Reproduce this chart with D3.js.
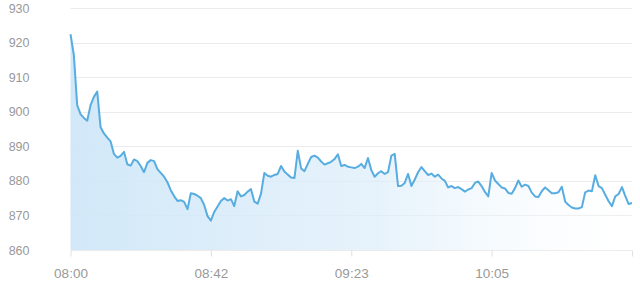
<!DOCTYPE html>
<meta charset="utf-8">
<style>

body { margin: 0; background: #fff; }

.grid line {
  stroke: #ebebeb;
  stroke-width: 1px;
}

.axis text {
  fill: #999;
  font-family: "Liberation Sans", Arial, sans-serif;
}

.axis path { display: none; }

.axis--x line { stroke: #e0e0e0; }

.line {
  fill: none;
  stroke: #58ade0;
  stroke-width: 2px;
  stroke-linejoin: round;
}

</style>
<svg width="640" height="294"></svg>
<script src="https://cdn.jsdelivr.net/npm/d3@7/dist/d3.min.js"></script>
<script>

// one value per minute, index 0 = 08:00
var values = [
  922.4, 916.4, 901.9, 899.3, 898.2, 897.4, 901.9, 904.3, 905.8, 895.5,
  893.7, 892.5, 891.4, 887.8, 886.7, 887.2, 888.4, 884.8, 884.4, 886.2,
  885.7, 884.3, 882.5, 885.2, 886.0, 885.7, 883.4, 882.3, 881.2, 879.6,
  877.3, 875.6, 874.2, 874.4, 873.9, 871.8, 876.4, 876.2, 875.7, 875.0,
  873.0, 869.8, 868.5, 871.0, 872.6, 874.2, 875.0, 874.3, 874.7, 872.7,
  877.0, 875.5, 875.9, 876.9, 877.6, 874.0, 873.4, 876.3, 882.3, 881.5,
  881.2, 881.7, 882.0, 884.3, 882.7, 881.8, 881.0, 880.8, 888.7, 883.6,
  882.8, 884.9, 886.9, 887.3, 886.7, 885.6, 884.7, 885.1, 885.5, 886.3,
  887.7, 884.3, 884.6, 884.1, 883.9, 883.7, 884.1, 884.9, 883.7, 886.6,
  883.1, 881.2, 882.2, 882.8, 882.0, 882.5, 887.3, 887.8, 878.5, 878.6,
  879.4, 882.0, 878.5, 880.4, 882.5, 884.0, 882.8, 881.7, 882.1, 881.2,
  881.8, 880.7, 880.0, 878.1, 878.5, 877.9, 878.2, 877.6, 876.9, 877.5,
  877.9, 879.4, 879.8, 878.5, 876.8, 875.5, 882.3, 880.1, 879.1, 878.1,
  877.8, 876.5, 876.3, 877.9, 880.1, 878.3, 878.9, 878.5, 876.6, 875.5,
  875.3, 877.0, 878.1, 877.3, 876.4, 876.4, 876.7, 878.3, 874.0, 873.0,
  872.3, 872.0, 872.0, 872.4, 876.7, 877.2, 877.0, 881.6, 878.5, 877.9,
  876.0, 874.1, 872.7, 875.5, 876.2, 878.2, 875.6, 873.3, 873.6
];

var xTickIndex = [0, 42, 84, 126, 168],
    xTickLabels = ["08:00", "08:42", "09:23", "10:05", ""];

var yTicks = [860, 870, 880, 890, 900, 910, 920, 930];

var svg = d3.select("svg"),
    plotLeft = 70.5, plotRight = 632, plotTop = 8, plotBottom = 250;

var x = d3.scaleLinear().domain([0, values.length - 1]).range([plotLeft, plotRight]),
    y = d3.scaleLinear().domain([860, 930]).range([plotBottom, plotTop]);

var defs = svg.append("defs");
var grad = defs.append("linearGradient")
    .attr("id", "fade")
    .attr("x1", "0%").attr("x2", "100%")
    .attr("y1", "0%").attr("y2", "0%");
grad.append("stop").attr("offset", "0%").attr("stop-color", "#cfe7f8").attr("stop-opacity", 0.95);
grad.append("stop").attr("offset", "55%").attr("stop-color", "#dcedfa").attr("stop-opacity", 0.7);
grad.append("stop").attr("offset", "100%").attr("stop-color", "#ffffff").attr("stop-opacity", 0.2);

// grid
svg.append("g")
    .attr("class", "grid")
  .selectAll("line")
  .data(yTicks)
  .enter().append("line")
    .attr("x1", plotLeft)
    .attr("x2", plotRight)
    .attr("y1", function(d) { return Math.round(y(d)) + 0.5; })
    .attr("y2", function(d) { return Math.round(y(d)) + 0.5; });

var area = d3.area()
    .x(function(d, i) { return x(i); })
    .y0(y(860))
    .y1(function(d) { return y(d); });

var line = d3.line()
    .x(function(d, i) { return x(i); })
    .y(function(d) { return y(d); });

svg.append("path")
    .datum(values)
    .attr("fill", "url(#fade)")
    .attr("d", area);

svg.append("path")
    .datum(values)
    .attr("class", "line")
    .attr("d", line);

// axes
svg.append("g")
    .attr("class", "axis axis--y")
    .attr("transform", "translate(" + plotLeft + ",0)")
    .call(d3.axisLeft(y).tickValues(yTicks).tickSize(0).tickPadding(41))
    .selectAll("text")
    .style("font-size", "12.5px");

svg.append("g")
    .attr("class", "axis axis--x")
    .attr("transform", "translate(0," + (plotBottom + 0.5) + ")")
    .call(d3.axisBottom(x)
        .tickValues(xTickIndex)
        .tickFormat(function(d, i) { return xTickLabels[i]; })
        .tickSize(6)
        .tickPadding(12))
    .selectAll("text")
    .style("font-size", "13.5px");

</script>
